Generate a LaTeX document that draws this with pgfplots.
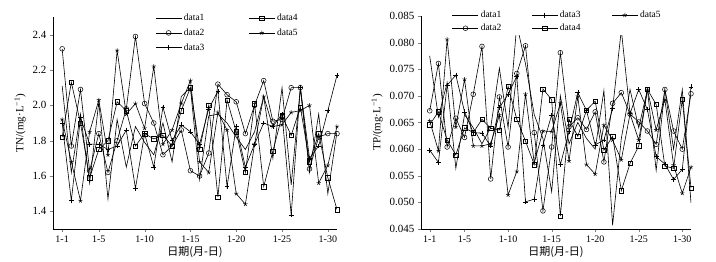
\documentclass[border=0pt]{standalone}
\usepackage{pgfplots}
\usepackage{pgfplotstable}
\pgfplotsset{compat=1.18}
\usepackage{fontspec}
\setmainfont{Liberation Serif}
\newfontfamily\cjk{Noto Sans CJK SC}

\pgfplotstableread{
day d1 d2 d3 d4 d5
1 2.11 2.32 1.90 1.82 1.92
2 1.62 1.77 1.46 2.13 1.68
3 1.95 2.09 1.93 1.90 1.46
4 1.56 1.63 1.78 1.59 1.85
5 2.02 1.84 1.78 1.75 2.03
6 1.47 1.62 1.75 1.80 1.72
7 1.92 1.80 1.77 2.02 2.31
8 1.65 1.98 1.86 1.97 1.95
9 1.88 2.39 1.53 1.77 2.01
10 1.79 2.01 1.84 1.84 1.87
11 1.72 1.90 1.65 1.81 2.22
12 1.90 1.72 1.99 1.83 1.78
13 1.68 1.77 1.80 1.77 1.86
14 2.05 1.86 1.89 1.97 2.01
15 2.10 1.63 1.85 2.10 2.14
16 1.58 1.60 1.78 1.75 1.68
17 1.94 1.73 1.98 2.00 1.62
18 1.95 2.12 2.08 1.48 1.96
19 1.90 2.06 1.54 2.03 1.86
20 1.82 2.02 1.88 1.85 1.50
21 1.75 1.84 1.65 1.62 1.44
22 1.85 2.00 1.78 2.01 1.78
23 2.05 2.14 1.90 1.54 2.05
24 1.70 1.91 1.88 1.74 1.88
25 2.10 1.92 1.95 1.94 1.89
26 1.55 2.10 1.38 1.83 1.96
27 2.10 2.10 2.10 1.99 1.97
28 1.62 1.64 1.70 1.68 2.00
29 1.95 1.82 1.77 1.84 1.56
30 1.50 1.84 1.97 1.59 1.66
31 1.85 1.84 2.17 1.41 1.88
}\tntable

\pgfplotstableread{
day d1 d2 d3 d4 d5
1 0.0775 0.0672 0.0598 0.0646 0.0653
2 0.0660 0.0761 0.0575 0.0670 0.0597
3 0.0725 0.0604 0.0720 0.0617 0.0806
4 0.0564 0.0658 0.0739 0.0589 0.0642
5 0.0665 0.0622 0.0670 0.0640 0.0731
6 0.0640 0.0703 0.0631 0.0631 0.0606
7 0.0610 0.0793 0.0630 0.0656 0.0606
8 0.0640 0.0544 0.0606 0.0639 0.0610
9 0.0752 0.0698 0.0678 0.0636 0.0664
10 0.0640 0.0604 0.0703 0.0718 0.0514
11 0.0834 0.0742 0.0737 0.0656 0.0558
12 0.0760 0.0794 0.0501 0.0615 0.0703
13 0.0665 0.0631 0.0506 0.0571 0.0574
14 0.0620 0.0484 0.0608 0.0713 0.0634
15 0.0520 0.0604 0.0664 0.0693 0.0633
16 0.0700 0.0781 0.0571 0.0474 0.0686
17 0.0610 0.0642 0.0633 0.0656 0.0578
18 0.0650 0.0659 0.0706 0.0624 0.0699
19 0.0620 0.0637 0.0673 0.0673 0.0571
20 0.0600 0.0670 0.0608 0.0690 0.0553
21 0.0710 0.0576 0.0617 0.0598 0.0645
22 0.0457 0.0686 0.0676 0.0624 0.0617
23 0.0620 0.0706 0.0824 0.0522 0.0580
24 0.0712 0.0666 0.0667 0.0573 0.0666
25 0.0640 0.0651 0.0712 0.0606 0.0617
26 0.0712 0.0634 0.0674 0.0712 0.0712
27 0.0560 0.0609 0.0586 0.0684 0.0636
28 0.0712 0.0712 0.0572 0.0568 0.0693
29 0.0600 0.0634 0.0543 0.0564 0.0570
30 0.0712 0.0600 0.0562 0.0694 0.0517
31 0.0499 0.0704 0.0717 0.0527 0.0566
}\tptable

\pgfplotsset{
  myaxis/.style={
    scale only axis,
    anchor=south west,
    xmin=0, xmax=31,
    axis x line*=bottom, axis y line*=left,
    axis line style={-, line width=0.6pt},
    tick align=outside,
    major tick length=3pt,
    xtick={1,5,10,15,20,25,30},
    xticklabels={1-1,1-5,1-10,1-15,1-20,1-25,1-30},
    x tick label style={font=\fontsize{10}{12}\selectfont},
    y tick label style={font=\fontsize{11}{13}\selectfont},
    /pgf/number format/assume math mode=true,
    label style={font=\fontsize{11}{13}\selectfont},
    xlabel={{\cjk 日期(月-日)}},
    xlabel style={yshift=3pt},
    every axis plot/.append style={black, line width=0.6pt, mark options={solid, line width=0.5pt, fill=white}},
    legend image code/.code={\draw[mark repeat=2,mark phase=2,##1] plot coordinates {(0pt,0pt) (13pt,0pt) (26pt,0pt)};},
    legend cell align=left,
  },
}

\begin{document}
\begin{tikzpicture}[x=1pt,y=1pt]
\useasboundingbox (0,0) rectangle (716,262);

\begin{axis}[myaxis,
  at={(53pt,33pt)}, width=284pt, height=212pt,
  ymin=1.3, ymax=2.5,
  ytick={1.4,1.6,...,2.4},
  yticklabel style={/pgf/number format/.cd, fixed, fixed zerofill, precision=1},
  ylabel={TN/(mg·L\textsuperscript{−1})},
  legend columns=2,
  legend style={draw=none, fill=white, at={(0.356,1.028)}, anchor=north west,
    font=\fontsize{9.5}{11}\selectfont, row sep=2.5pt, inner sep=1pt,
    /tikz/every even column/.append style={column sep=42pt}},
]
\addplot[mark=none] table[x=day,y=d1] {\tntable};
\addlegendentry{data1}
\addplot[mark=square, mark size=2.2pt] table[x=day,y=d4] {\tntable};
\addlegendentry{data4}
\addplot[mark=o, mark size=2.4pt] table[x=day,y=d2] {\tntable};
\addlegendentry{data2}
\addplot[mark=star, mark size=2.2pt] table[x=day,y=d5] {\tntable};
\addlegendentry{data5}
\addplot[mark=+, mark size=2.4pt] table[x=day,y=d3] {\tntable};
\addlegendentry{data3}
\end{axis}

\begin{axis}[myaxis,
  at={(421pt,33pt)}, width=270pt, height=213pt,
  ymin=0.045, ymax=0.085,
  ytick={0.045,0.050,...,0.085},
  scaled y ticks=false,
  yticklabel style={/pgf/number format/.cd, fixed, fixed zerofill, precision=3},
  ylabel={TP/(mg·L\textsuperscript{−1})},
  legend columns=3,
  legend style={draw=none, fill=white, at={(0.111,1.038)}, anchor=north west,
    font=\fontsize{9.5}{11}\selectfont, row sep=1pt, inner sep=1pt,
    /tikz/column 2/.append style={column sep=28pt},
    /tikz/column 4/.append style={column sep=29pt}},
]
\addplot[mark=none] table[x=day,y=d1] {\tptable};
\addlegendentry{data1}
\addplot[mark=+, mark size=2.4pt] table[x=day,y=d3] {\tptable};
\addlegendentry{data3}
\addplot[mark=star, mark size=2.2pt] table[x=day,y=d5] {\tptable};
\addlegendentry{data5}
\addplot[mark=o, mark size=2.4pt] table[x=day,y=d2] {\tptable};
\addlegendentry{data2}
\addplot[mark=square, mark size=2.2pt] table[x=day,y=d4] {\tptable};
\addlegendentry{data4}
\end{axis}
\end{tikzpicture}
\end{document}
